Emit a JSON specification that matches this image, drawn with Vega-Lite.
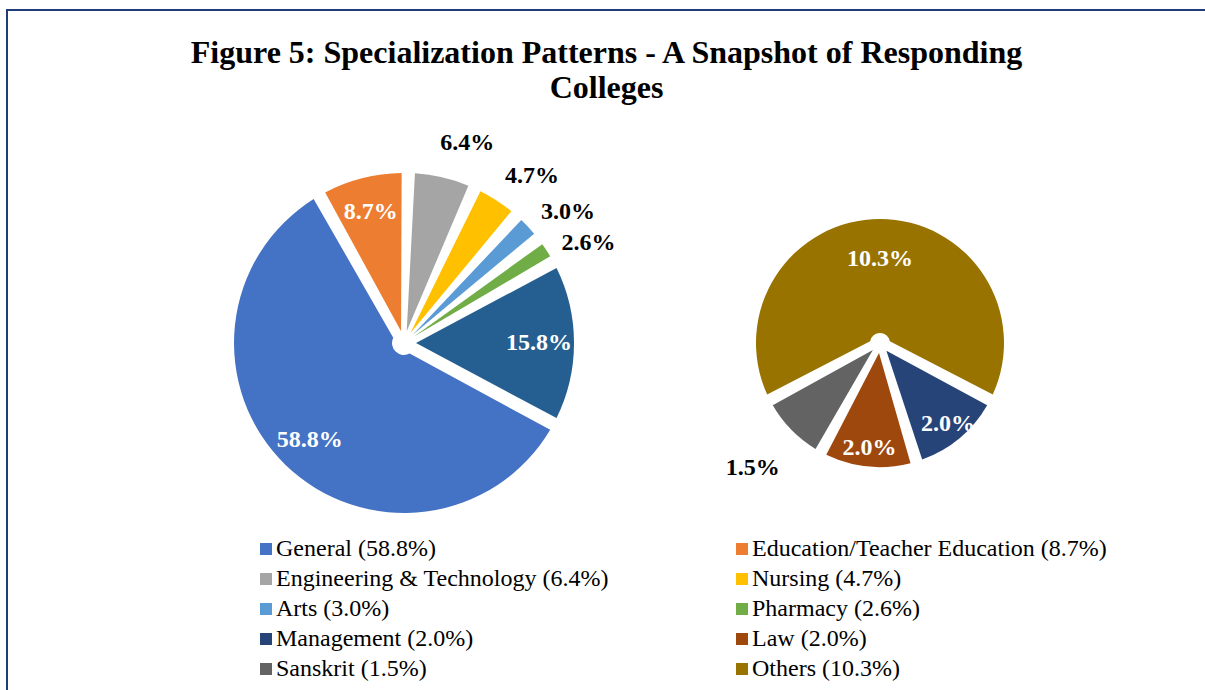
{
  "$schema": "https://vega.github.io/schema/vega-lite/v6.json",
  "width": 1199,
  "height": 690,
  "autosize": "none",
  "padding": {"left": 7, "top": 10, "right": 0, "bottom": 0},
  "title": {
    "text": ["Figure 5: Specialization Patterns - A Snapshot of Responding", "Colleges"],
    "font": "Liberation Serif",
    "fontSize": 32,
    "fontWeight": "bold",
    "color": "#000000",
    "anchor": "middle",
    "baseline": "top",
    "offset": -95,
    "lineHeight": 35
  },
  "data": {
    "values": [
      {"pie": "main", "name": "General (58.8%)", "share": 0.588},
      {"pie": "main", "name": "Education/Teacher Education (8.7%)", "share": 0.087},
      {"pie": "main", "name": "Engineering & Technology (6.4%)", "share": 0.064},
      {"pie": "main", "name": "Nursing (4.7%)", "share": 0.047},
      {"pie": "main", "name": "Arts (3.0%)", "share": 0.030},
      {"pie": "main", "name": "Pharmacy (2.6%)", "share": 0.026},
      {"pie": "main", "name": "Other (15.8%)", "share": 0.158},
      {"pie": "sub", "name": "Management (2.0%)", "share": 0.020},
      {"pie": "sub", "name": "Law (2.0%)", "share": 0.020},
      {"pie": "sub", "name": "Sanskrit (1.5%)", "share": 0.015},
      {"pie": "sub", "name": "Others (10.3%)", "share": 0.103}
    ]
  },
  "encoding": {
    "x": {
      "field": "pie",
      "type": "nominal",
      "axis": null,
      "scale": {"type": "point", "domain": ["main", "sub"], "padding": 0.7595, "align": 0.5491}
    },
    "color": {
      "field": "name",
      "type": "nominal",
      "scale": {
        "domain": [
          "General (58.8%)", "Engineering & Technology (6.4%)", "Arts (3.0%)", "Management (2.0%)",
          "Sanskrit (1.5%)", "Education/Teacher Education (8.7%)", "Nursing (4.7%)", "Pharmacy (2.6%)",
          "Law (2.0%)", "Others (10.3%)", "Other (15.8%)"
        ],
        "range": ["#4472C4", "#A5A5A5", "#5B9BD5", "#264478", "#636363", "#ED7D31", "#FFC000", "#70AD47", "#9E480E", "#997300", "#255E91"]
      },
      "legend": {
        "orient": "none",
        "legendX": 247,
        "legendY": 527,
        "columns": 2,
        "columnPadding": 121,
        "rowPadding": 6,
        "padding": 0,
        "title": null,
        "symbolType": "square",
        "symbolSize": 144,
        "symbolStrokeWidth": 0,
        "labelFont": "Liberation Serif",
        "labelFontSize": 24,
        "labelColor": "#000000",
        "labelLimit": 600,
        "labelOffset": -2,
        "values": [
          "General (58.8%)", "Engineering & Technology (6.4%)", "Arts (3.0%)", "Management (2.0%)",
          "Sanskrit (1.5%)", "Education/Teacher Education (8.7%)", "Nursing (4.7%)", "Pharmacy (2.6%)",
          "Law (2.0%)", "Others (10.3%)"
        ]
      }
    }
  },
  "layer": [
    {
      "transform": [
        {"filter": "datum.pie === 'main'"},
        {"window": [{"op": "row_number", "as": "ord"}]}
      ],
      "encoding": {
        "theta": {"field": "share", "type": "quantitative", "stack": true, "scale": {"range": [2.0672, 8.3504]}},
        "order": {"field": "ord", "type": "quantitative"}
      },
      "layer": [
        {"mark": {"type": "arc", "radius": 170, "radius2": 12, "padAngle": 0.078, "yOffset": -12}},
        {
          "mark": {"type": "text", "radius": 135, "font": "Liberation Serif", "fontSize": 24, "fontWeight": "bold", "yOffset": -12},
          "encoding": {
            "color": {"value": "#FFFFFF"},
            "detail": {"field": "name"},
            "text": {"condition": {"test": "datum.share >= 0.08", "field": "share", "type": "quantitative", "format": ".1%"}, "value": ""}
          }
        },
        {
          "mark": {"type": "text", "radius": 210, "thetaOffset": 0.08, "font": "Liberation Serif", "fontSize": 24, "fontWeight": "bold", "yOffset": -12},
          "encoding": {
            "color": {"value": "#000000"},
            "detail": {"field": "name"},
            "text": {"condition": {"test": "datum.share < 0.08", "field": "share", "type": "quantitative", "format": ".1%"}, "value": ""}
          }
        }
      ]
    },
    {
      "transform": [
        {"filter": "datum.pie === 'sub'"},
        {"window": [{"op": "row_number", "as": "ord"}]}
      ],
      "encoding": {
        "theta": {"field": "share", "type": "quantitative", "stack": true, "scale": {"range": [2.0482, 8.3314]}},
        "order": {"field": "ord", "type": "quantitative"}
      },
      "layer": [
        {"mark": {"type": "arc", "radius": 124, "radius2": 10, "padAngle": 0.098, "yOffset": -12}},
        {
          "mark": {"type": "text", "radius": 84, "font": "Liberation Serif", "fontSize": 24, "fontWeight": "bold", "yOffset": -12},
          "encoding": {
            "color": {"value": "#FFFFFF"},
            "detail": {"field": "name"},
            "text": {"condition": {"test": "datum.share >= 0.05", "field": "share", "type": "quantitative", "format": ".1%"}, "value": ""}
          }
        },
        {
          "mark": {"type": "text", "radius": 106, "font": "Liberation Serif", "fontSize": 24, "fontWeight": "bold", "yOffset": -12},
          "encoding": {
            "color": {"value": "#FFFFFF"},
            "detail": {"field": "name"},
            "text": {"condition": {"test": "datum.share >= 0.018 && datum.share < 0.05", "field": "share", "type": "quantitative", "format": ".1%"}, "value": ""}
          }
        },
        {
          "mark": {"type": "text", "radius": 178, "font": "Liberation Serif", "fontSize": 24, "fontWeight": "bold", "yOffset": -12},
          "encoding": {
            "color": {"value": "#000000"},
            "detail": {"field": "name"},
            "text": {"condition": {"test": "datum.share < 0.018", "field": "share", "type": "quantitative", "format": ".1%"}, "value": ""}
          }
        }
      ]
    }
  ],
  "resolve": {"scale": {"theta": "independent"}},
  "config": {
    "view": {"stroke": "#203D7A", "strokeWidth": 2},
    "font": "Liberation Serif"
  }
}
